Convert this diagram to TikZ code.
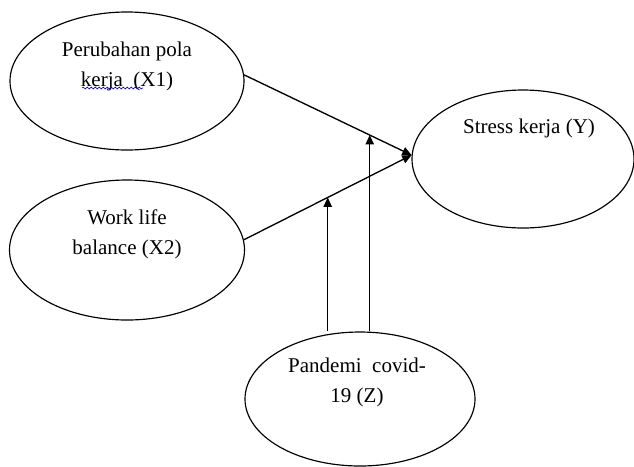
\documentclass[tikz,border=0pt]{standalone}
\usepackage{fontspec}
\setmainfont{Liberation Serif}
\usetikzlibrary{shapes.geometric, arrows.meta, positioning, calc, decorations.pathmorphing}

\tikzset{
  var/.style={draw, ellipse, line width=0.7pt, inner sep=0pt},
  lbl/.style={font=\fontsize{12.6}{18}\selectfont, align=center, inner sep=0pt},
  arr/.style={-{Triangle[length=5.6pt, width=5pt]}, line width=0.8pt}
}

\begin{document}
\begin{tikzpicture}[x=0.6pt, y=-0.6pt]
  \useasboundingbox (0,0) rectangle (634,466);

  % Variables
  \node[var, minimum width=140.4pt, minimum height=82.8pt] (x1) at (127,81) {};
  \node[var, minimum width=141pt, minimum height=84pt] (x2) at (127,250) {};
  \node[var, minimum width=133.2pt, minimum height=82.8pt] (y) at (523,159) {};
  \node[var, minimum width=138pt, minimum height=80.4pt] (z) at (360,399) {};

  % Labels
  \node[lbl] (tx1) at (127,66) {Perubahan pola\\kerja~ (X1)};
  \node[lbl] (tx2) at (127,234) {Work life\\balance (X2)};
  \node[lbl] (ty) at (529,128) {Stress kerja (Y)};
  \node[lbl] (tz) at (357,382) {Pandemi~ covid-\\19 (Z)};
  \draw[blue, line width=0.4pt, decorate, decoration={snake, amplitude=0.5pt, segment length=2.4pt}] (82,88) -- (143,88);

  % Paths
  \draw[arr] (x1.3) -- (y.178);
  \draw[arr] (x2.5) -- (y.178);

  % Moderation
  \coordinate (m1) at ($(x1.3)!0.75!(y.178)$);
  \coordinate (m2) at ($(x2.5)!0.50!(y.178)$);
  \draw[arr] (z.north -| m1) -- (m1);
  \draw[arr] (z.north -| m2) -- (m2);
\end{tikzpicture}
\end{document}
